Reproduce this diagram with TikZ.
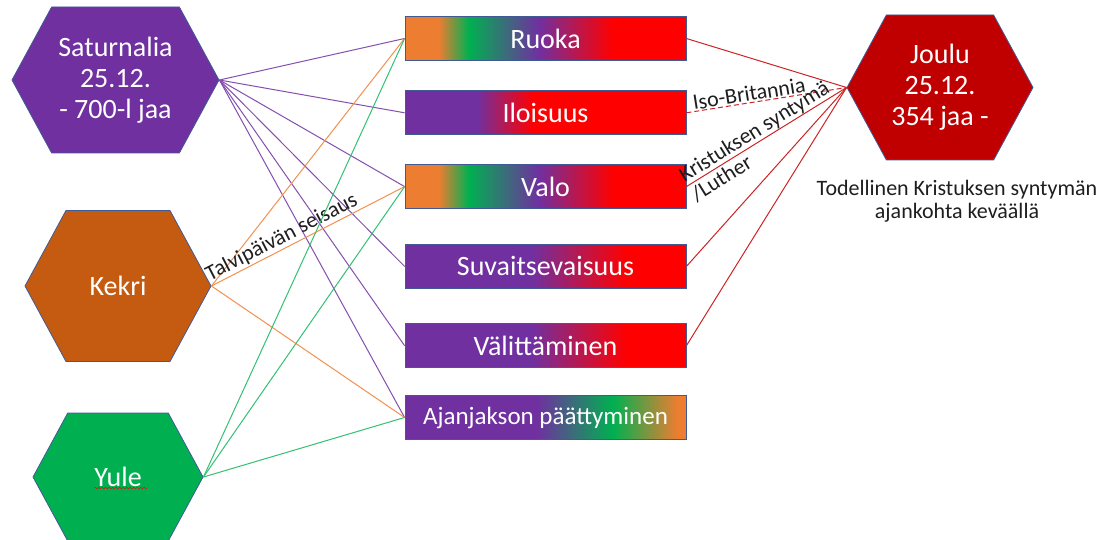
\documentclass[tikz,border=0pt]{standalone}
\usepackage{fontspec}
\setmainfont{Carlito}
\usetikzlibrary{positioning, shapes.symbols, calc, decorations.pathmorphing}
\definecolor{kpurple}{RGB}{112,48,160}
\definecolor{korange}{RGB}{237,125,49}
\definecolor{kgreen}{RGB}{0,176,80}
\definecolor{kred}{RGB}{255,0,0}
\definecolor{kbrown}{RGB}{197,90,17}
\definecolor{kdarkred}{RGB}{192,0,0}
\definecolor{kborder}{RGB}{65,90,150}
\definecolor{klinered}{RGB}{205,35,35}
\definecolor{ktext}{RGB}{30,30,30}
\pgfdeclarehorizontalshading{ruokashade}{100bp}{color(0bp)=(korange); color(31bp)=(korange); color(36.3bp)=(kgreen); color(48.75bp)=(kpurple); color(62bp)=(kred); color(100bp)=(kred)}
\pgfdeclarehorizontalshading{iloshade}{100bp}{color(0bp)=(kpurple); color(37.8bp)=(kpurple); color(47.9bp)=(kred); color(100bp)=(kred)}
\pgfdeclarehorizontalshading{suvshade}{100bp}{color(0bp)=(kpurple); color(47.5bp)=(kpurple); color(64.5bp)=(kred); color(100bp)=(kred)}
\pgfdeclarehorizontalshading{ajanshade}{100bp}{color(0bp)=(kpurple); color(48.5bp)=(kpurple); color(62bp)=(kgreen); color(73.5bp)=(korange); color(100bp)=(korange)}

\begin{document}
\begin{tikzpicture}[x=1pt, y=-1pt,
      hexa/.style={signal, signal to=west and east, signal pointer angle=123, draw=kborder,
                   line width=0.8pt, text=white, align=center, inner sep=0pt,
                   font=\fontsize{28}{31}\selectfont},
      box/.style={rectangle, draw=kborder, line width=0.8pt, minimum width=281pt, minimum height=44pt,
                  inner sep=0pt, text=white, font=\fontsize{28}{31}\selectfont},
      lbl/.style={text=ktext, inner sep=1pt, font=\fontsize{22}{23}\selectfont},
      purpline/.style={kpurple!85, line width=1pt},
      orline/.style={korange!85, line width=1pt},
      grline/.style={kgreen!80, line width=1pt},
      redline/.style={klinered, line width=1pt}]
    \useasboundingbox (0,0) rectangle (1106,540);
    % hexagons
    \node[hexa, fill=kpurple, minimum width=207pt, minimum height=146pt] (sat) at (115.5,80) {Saturnalia\\25.12.\\- 700-l jaa};
    \node[hexa, fill=kbrown, minimum width=186pt, minimum height=151pt] (kekri) at (118,286) {Kekri};
    \node[hexa, fill=kgreen, minimum width=170pt, minimum height=128pt] (yule) at (118,477) {Yule};
    \node[hexa, fill=kdarkred, minimum width=186pt, minimum height=145pt] (joulu) at (940,87.5) {Joulu\\25.12.\\354 jaa -};
    \draw[kred, decorate, decoration={snake, amplitude=0.9pt, segment length=3.5pt}]
      ($(yule.center)+(-24,11)$) -- ($(yule.center)+(30,11)$);
    % boxes
    \node[box, shading=ruokashade] (ruoka) at (545.5,38.5) {Ruoka};
    \node[box, shading=iloshade, below=29.5pt of ruoka] (ilo) {Iloisuus};
    \node[box, shading=ruokashade, below=29pt of ilo] (valo) {Valo};
    \node[box, shading=suvshade, below=35pt of valo] (suv) {Suvaitsevaisuus};
    \node[box, shading=suvshade, below=34.5pt of suv] (val) {Välittäminen};
    \node[box, shading=ajanshade, below=27pt of val, font=\fontsize{25}{30}\selectfont] (ajan) {Ajanjakson päättyminen};
    \node[lbl, align=center] (note) at (957,201) {Todellinen Kristuksen syntymän\\ajankohta keväällä};
    % connectors
    \draw[purpline] (sat.east) -- (ruoka.west);
    \draw[purpline] (sat.east) -- (ilo.west);
    \draw[purpline] (sat.east) -- (valo.west);
    \draw[purpline] (sat.east) -- (suv.west);
    \draw[purpline] (sat.east) -- (val.west);
    \draw[purpline] (sat.east) -- (ajan.west);
    \draw[orline] (kekri.east) -- (ruoka.west);
    \draw[orline] (kekri.east) -- node[lbl, pos=0.39, above, sloped] {Talvipäivän seisaus} (valo.west);
    \draw[orline] (kekri.east) -- (ajan.west);
    \draw[grline] (yule.east) -- (ruoka.west);
    \draw[grline] (yule.east) -- (valo.west);
    \draw[grline] (yule.east) -- (ajan.west);
    \draw[redline] (ruoka.east) -- (joulu.west);
    \draw[redline, dash pattern=on 5pt off 3pt] (ilo.east) -- node[lbl, pos=0.4, above, sloped] {Iso-Britannia} (joulu.west);
    \draw[redline] (valo.east) -- node[lbl, pos=0.46, sloped, align=left] {Kristuksen syntymä\\/Luther} (joulu.west);
    \draw[redline] (suv.east) -- (joulu.west);
    \draw[redline] (val.east) -- (joulu.west);
  \end{tikzpicture}
\end{document}
